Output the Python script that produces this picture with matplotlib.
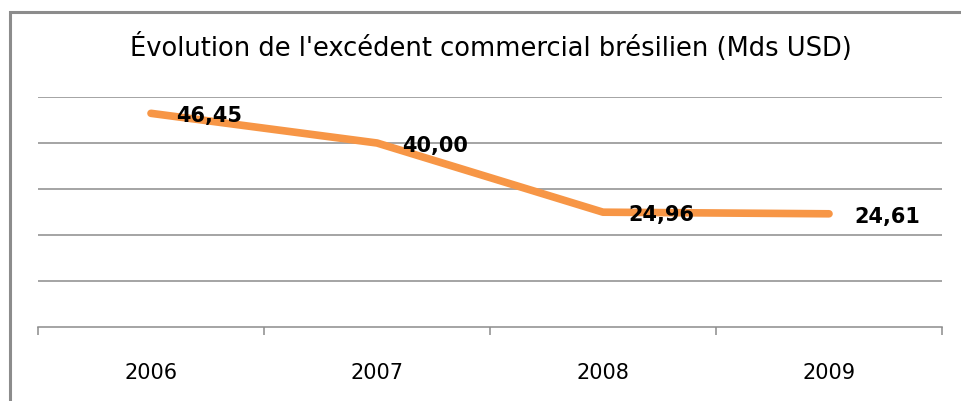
import matplotlib.pyplot as plt
from matplotlib.patches import Rectangle


years = ["2006", "2007", "2008", "2009"]
surplus = [46.45, 40.00, 24.96, 24.61]
labels = ["46,45", "40,00", "24,96", "24,61"]
grid_values = [10, 20, 30, 40, 50]

TITLE = "Évolution de l'excédent commercial brésilien (Mds USD)"
ORANGE = "#F79646"
GREY = "#8C8C8C"


def main():
    fig = plt.figure(figsize=(9.61, 4.01), dpi=100)

    # outer chart frame (cut off at right and bottom like the original)
    fig.patches.append(Rectangle((10 / 961, -0.05), 1.0, (401 - 12) / 401 + 0.05,
                                 transform=fig.transFigure, fill=False,
                                 edgecolor=GREY, linewidth=2.2))

    ax = fig.add_axes([38 / 961, 74 / 401, 904 / 961, 230 / 401])

    x = list(range(len(years)))
    ax.plot(x, surplus, color=ORANGE, linewidth=5.5, solid_capstyle="round",
            solid_joinstyle="round", zorder=3)

    for xi, yi, lab in zip(x, surplus, labels):
        ax.annotate(lab, (xi, yi), xytext=(18, -2), textcoords="offset points",
                    ha="left", va="center", fontsize=15, fontweight="bold",
                    color="black", zorder=4)

    ax.set_xlim(-0.5, len(years) - 0.5)
    ax.set_ylim(0, 50)

    for g in grid_values:
        ax.axhline(g, color=GREY, linewidth=1.1, zorder=1)

    ax.set_yticks([])
    ax.set_xticks(x)
    ax.set_xticklabels(years, fontsize=15)
    ax.tick_params(axis="x", length=0, pad=26)
    ax.set_xticks([i - 0.5 for i in range(len(years) + 1)], minor=True)
    ax.tick_params(axis="x", which="minor", length=6, width=1.1, color=GREY)

    for side in ["left", "right", "top"]:
        ax.spines[side].set_visible(False)
    ax.spines["bottom"].set_color(GREY)
    ax.spines["bottom"].set_linewidth(1.1)

    fig.text(491 / 961, 1 - 47 / 401, TITLE, ha="center", va="center",
             fontsize=18.5)

    fig.savefig("out.png", dpi=100)
    plt.close(fig)


if __name__ == "__main__":
    main()
